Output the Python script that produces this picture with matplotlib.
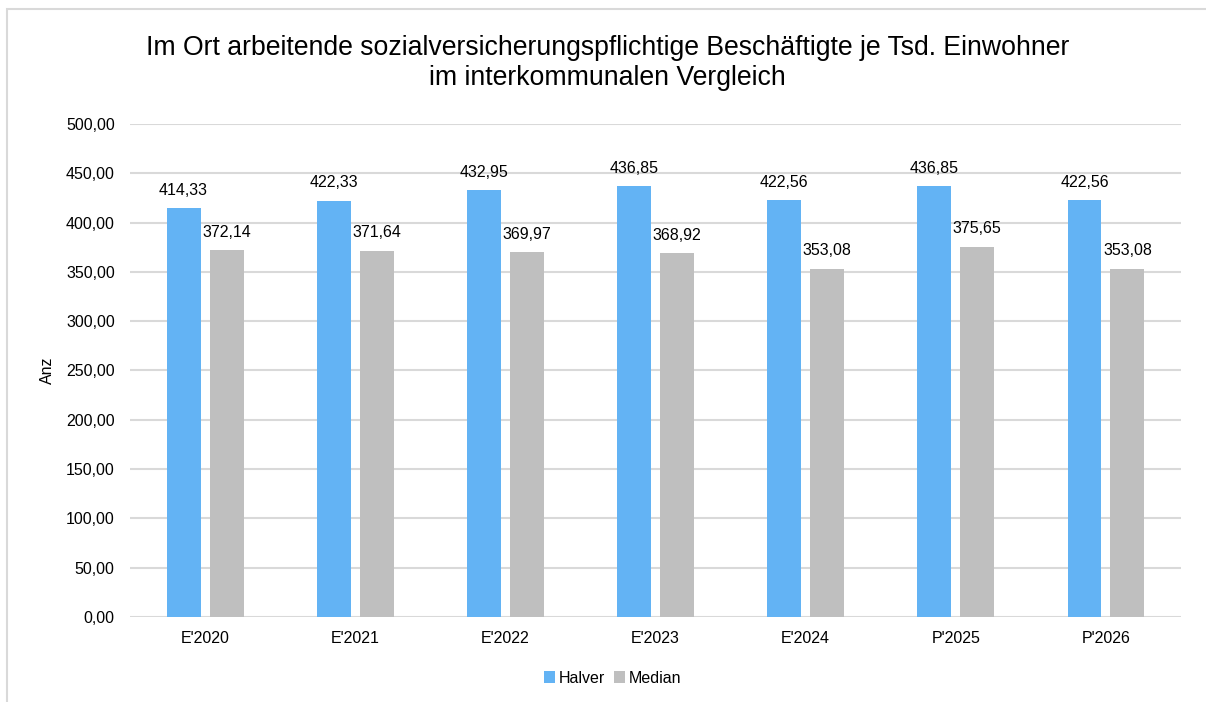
import numpy as np
import matplotlib
matplotlib.use("Agg")
import matplotlib.pyplot as plt
from matplotlib.patches import Rectangle

plt.rcParams['font.family'] = ['Liberation Sans', 'DejaVu Sans']

# Daten
jahre = ["E'2020", "E'2021", "E'2022", "E'2023", "E'2024", "P'2025", "P'2026"]
halver = [414.33, 422.33, 432.95, 436.85, 422.56, 436.85, 422.56]
median = [372.14, 371.64, 369.97, 368.92, 353.08, 375.65, 353.08]

farbe_halver = "#63B3F4"
farbe_median = "#BFBFBF"


def de(v):
    return f"{v:,.2f}".replace(",", "X").replace(".", ",").replace("X", ".")


fig = plt.figure(figsize=(12.06, 7.02), dpi=100)
ax = fig.add_axes([0.1078, 0.1211, 0.8715, 0.7023])

# Rahmen des Diagrammbereichs
fig.patches.append(Rectangle((7 / 1206, -0.01), 1.02, 1 - 9 / 702 + 0.01,
                             transform=fig.transFigure, fill=False,
                             edgecolor="#D9D9D9", linewidth=1.5))

x = np.arange(len(jahre))
breite = 0.226
versatz = 0.143

b1 = ax.bar(x - versatz, halver, breite, color=farbe_halver, label="Halver", zorder=3)
b2 = ax.bar(x + versatz, median, breite, color=farbe_median, label="Median", zorder=3)

for bars in (b1, b2):
    for b in bars:
        ax.annotate(de(b.get_height()), (b.get_x() + b.get_width() / 2, b.get_height()),
                    xytext=(0, 7.5), textcoords="offset points",
                    ha="center", va="bottom", fontsize=11.5, color="#000000")

ax.set_xlim(-0.5, len(jahre) - 0.5)
ax.set_ylim(0, 500)
ax.set_yticks(np.arange(0, 501, 50))
ax.set_yticklabels([de(v) for v in np.arange(0, 501, 50)])
ax.set_xticks(x)
ax.set_xticklabels(jahre)
ax.tick_params(axis="both", length=0, labelsize=11.5, colors="#000000")
ax.tick_params(axis="y", pad=11)
ax.tick_params(axis="x", pad=10)
ax.grid(axis="y", color="#D9D9D9", linewidth=1.5, zorder=0)
for s in ax.spines.values():
    s.set_visible(False)

ax.set_ylabel("Anz", fontsize=11.5, labelpad=8)

fig.text(0.504, 0.91,
         "Im Ort arbeitende sozialversicherungspflichtige Beschäftigte je Tsd. Einwohner\nim interkommunalen Vergleich",
         ha="center", va="center", fontsize=19.2, linespacing=1.2)

fig.legend(loc="center", bbox_to_anchor=(0.508, 0.034), ncol=2, frameon=False,
           fontsize=11.5, handlelength=0.7, handleheight=0.7, handletextpad=0.2,
           columnspacing=0.6)

fig.savefig("out.png", dpi=100)
